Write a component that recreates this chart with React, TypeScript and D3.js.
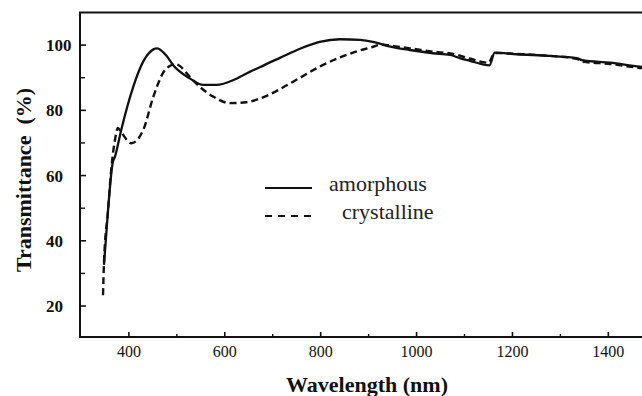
import React from "react";
import * as d3 from "d3";

// Transmittance spectra (wavelength in nm, transmittance in %)
const amorphousWl = [348, 356, 366, 371, 384, 409, 430, 441, 451, 459, 467, 478, 492, 527, 555, 583, 618, 652, 673, 694, 715, 757, 798, 840, 882, 909, 938, 986, 1034, 1070, 1090, 1111, 1152, 1163, 1209, 1278, 1334, 1345, 1404, 1466, 1480];
const amorphousT = [32.6, 48.5, 63.8, 65.8, 74, 87.2, 95.0, 97.4, 98.7, 99.0, 98.4, 96.8, 93.9, 89.8, 87.8, 87.8, 89.3, 91.8, 93.2, 94.7, 96.1, 98.9, 101.0, 101.8, 101.6, 101, 99.8, 98.5, 97.5, 97, 96, 95.2, 93.8, 97.7, 97.2, 96.7, 96.0, 95.4, 94.6, 93.4, 93.2];

const crystallineWl = [346, 348, 356, 364, 371, 377, 383, 405, 430, 451, 471, 489, 497, 503, 527, 548, 576, 611, 645, 673, 694, 715, 757, 798, 840, 882, 910, 923, 986, 1034, 1076, 1110, 1150, 1163, 1209, 1278, 1334, 1345, 1404, 1466, 1480];
const crystallineT = [23.3, 33.2, 48.5, 63.2, 71, 74.6, 73.5, 69.9, 74, 84.2, 91.4, 93.9, 94.2, 93.9, 90.3, 87.2, 84.2, 82.2, 82.5, 83.6, 84.9, 86.5, 90.0, 93.4, 96.2, 98.4, 99.5, 100.1, 99.0, 98.0, 97.3, 95.9, 94.6, 97.6, 97.3, 96.7, 95.8, 95.0, 94.2, 93.0, 92.8];

const xMajorTicks = [400, 600, 800, 1000, 1200, 1400];
const xMinorTicks = [500, 700, 900, 1100, 1300];
const yMajorTicks = [20, 40, 60, 80, 100];
const yMinorTicks = [30, 50, 70, 90];

const legendItems = [
  { label: "amorphous", dash: "none" },
  { label: "crystalline", dash: "7 6" },
];

const W = 642;
const H = 396;
const INK = "#111";
const FONT = "'Liberation Serif', 'Times New Roman', serif";

export default function App() {
  const x = d3.scaleLinear().domain([298, 1480]).range([80, 646.7]);
  const y = d3.scaleLinear().domain([10.5, 110]).range([337, 12.5]);

  const line = d3
    .line<[number, number]>()
    .x((d) => x(d[0]))
    .y((d) => y(d[1]))
    .curve(d3.curveMonotoneX);

  const amorphous = d3.zip(amorphousWl, amorphousT) as [number, number][];
  const crystalline = d3.zip(crystallineWl, crystallineT) as [number, number][];

  const left = x.range()[0];
  const right = W + 10;
  const top = y.range()[1];
  const bottom = y.range()[0];

  return (
    <svg
      width={W}
      height={H}
      viewBox={`0 0 ${W} ${H}`}
      style={{ position: "absolute", left: 0, top: 0, background: "#fff" }}
      fontFamily={FONT}
    >
      <rect x={0} y={0} width={W} height={H} fill="#fff" />

      {/* frame */}
      <path
        d={`M${right},${top}H${left}V${bottom}H${right}`}
        fill="none"
        stroke={INK}
        strokeWidth={2}
      />

      {/* x ticks, pointing inward */}
      {xMajorTicks.map((t) => (
        <g key={`xm${t}`}>
          <line x1={x(t)} x2={x(t)} y1={bottom} y2={bottom - 5} stroke={INK} strokeWidth={1.6} />
          <text x={x(t)} y={357} textAnchor="middle" fontSize={16} fill={INK}>
            {t}
          </text>
        </g>
      ))}
      {xMinorTicks.map((t) => (
        <line key={`xn${t}`} x1={x(t)} x2={x(t)} y1={bottom} y2={bottom - 3} stroke={INK} strokeWidth={1.4} />
      ))}

      {/* y ticks */}
      {yMajorTicks.map((t) => (
        <g key={`ym${t}`}>
          <line x1={left} x2={left + 6} y1={y(t)} y2={y(t)} stroke={INK} strokeWidth={1.6} />
          <text x={46} y={y(t)} dy="0.35em" textAnchor="start" fontSize={17} fontWeight="bold" fill={INK}>
            {t}
          </text>
        </g>
      ))}
      {yMinorTicks.map((t) => (
        <line key={`yn${t}`} x1={left} x2={left + 5} y1={y(t)} y2={y(t)} stroke={INK} strokeWidth={1.4} />
      ))}

      {/* axis titles */}
      <text x={367} y={392} textAnchor="middle" fontSize={22} fontWeight="bold" fill={INK}>
        Wavelength (nm)
      </text>
      <text
        transform="translate(31,180) rotate(-90)"
        textAnchor="middle"
        fontSize={22}
        fontWeight="bold"
        fill={INK}
        style={{ whiteSpace: "pre" }}
      >
        {"Transmittance  (%)"}
      </text>

      {/* spectra */}
      <path d={line(crystalline) ?? ""} fill="none" stroke={INK} strokeWidth={2.4} strokeDasharray="7 4" />
      <path d={line(amorphous) ?? ""} fill="none" stroke={INK} strokeWidth={2.3} />

      {/* legend */}
      {legendItems.map((item, i) => {
        const ly = 188 + i * 28;
        return (
          <g key={item.label}>
            <line x1={265} x2={312} y1={ly} y2={ly} stroke={INK} strokeWidth={2} strokeDasharray={item.dash} />
            <text x={i === 0 ? 329 : 342} y={ly + 3} fontSize={22} fill="#222">
              {item.label}
            </text>
          </g>
        );
      })}
    </svg>
  );
}
